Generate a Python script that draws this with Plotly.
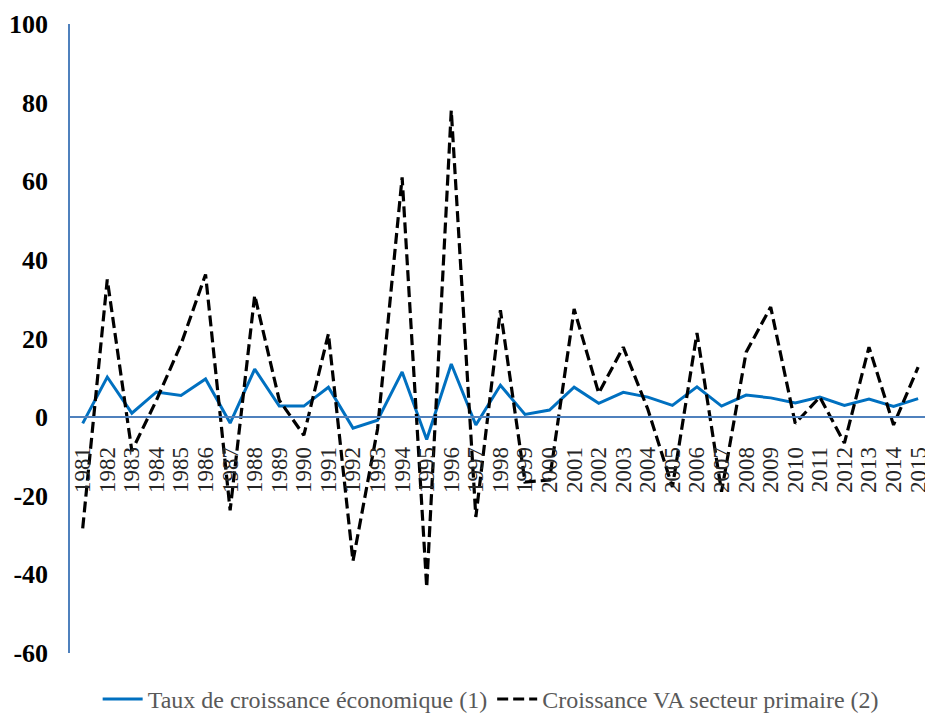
import plotly.graph_objects as go

years = [str(y) for y in range(1981, 2016)]
growth_econ = [-1.6, 10.2, 1.0, 6.4, 5.5, 9.7, -1.5, 12.2, 2.8, 2.8,
               7.6, -2.8, -0.8, 11.5, -5.7, 13.5, -2.0, 8.1, 0.7, 1.8,
               7.6, 3.5, 6.3, 5.1, 3.0, 7.7, 2.8, 5.6, 4.9, 3.6,
               5.1, 3.0, 4.6, 2.7, 4.7]
growth_primary = [-28.3, 35.0, -8.6, 4.3, 18.5, 36.3, -23.7, 31.0, 4.3, -4.6,
                  21.2, -36.6, -3.0, 61.0, -43.3, 78.0, -25.4, 27.2, -16.5, -16.0,
                  27.5, 6.1, 17.8, 2.0, -17.8, 21.4, -19.0, 16.5, 28.0, -1.6,
                  5.1, -6.6, 17.8, -2.0, 12.7]
y_ticks = [-60, -40, -20, 0, 20, 40, 60, 80, 100]
y_tick_labels = [str(v) for v in y_ticks]

name1 = "Taux de croissance économique (1)"
name2 = "Croissance VA secteur primaire (2)"

serif = "Liberation Serif, Times New Roman, serif"
axis_col = "#4F81BD"

fig = go.Figure()
fig.add_trace(go.Scatter(x=years, y=growth_econ, mode="lines", name=name1,
                         line=dict(color="#0070C0", width=3)))
fig.add_trace(go.Scatter(x=years, y=growth_primary, mode="lines", name=name2,
                         line=dict(color="#000000", width=3.2, dash="11px,5px")))

fig.update_layout(
    width=925, height=715,
    margin=dict(l=70, r=0, t=24, b=62, autoexpand=False),
    paper_bgcolor="white", plot_bgcolor="white",
    font=dict(family=serif, color="#000000"),
    showlegend=True,
    legend=dict(orientation="h", x=0.492, xanchor="center", y=-0.038, yanchor="top",
                font=dict(family=serif, size=24, color="#595959"),
                itemwidth=40, tracegroupgap=0),
    xaxis=dict(type="category", range=[-0.517, 34.28],
               anchor="free", position=0.375,
               tickmode="array", tickvals=years, ticktext=years,
               showline=True, linecolor=axis_col, linewidth=1.5,
               showgrid=False, zeroline=False, ticks="",
               tickangle=-90, ticklabelstandoff=20,
               tickfont=dict(family=serif, size=23, color="#262626"),
               automargin=False),
    yaxis=dict(range=[-60, 100], tickmode="array", tickvals=y_ticks,
               ticktext=y_tick_labels,
               showline=True, linecolor=axis_col, linewidth=1.5,
               showgrid=False, zeroline=False, ticks="",
               ticklabelstandoff=15,
               tickfont=dict(family=serif, size=26, color="#000000", weight="bold"),
               automargin=False),
)

fig.write_html("out.html", config={"displayModeBar": False},
               post_script="document.body.style.margin='0';document.body.style.overflow='hidden';")
